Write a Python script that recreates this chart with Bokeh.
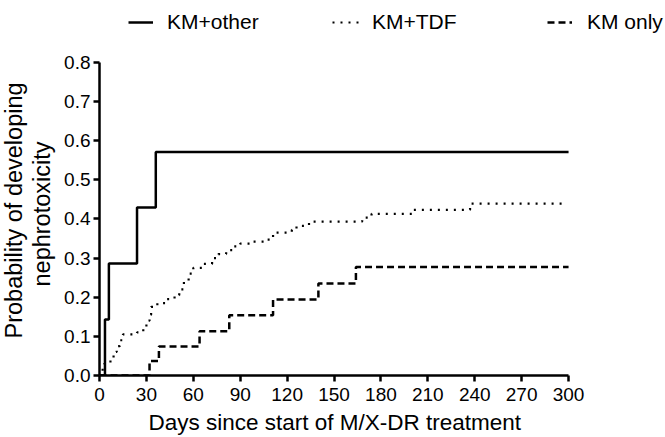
from bokeh.plotting import figure
from bokeh.models import Range1d, FixedTicker, PrintfTickFormatter, Legend, LegendItem, Title
from bokeh.embed import file_html
from bokeh.resources import INLINE

# ---- data ----
days_other = [0, 3.5, 6, 24, 36, 300]
prob_other = [0, 0.143, 0.286, 0.429, 0.571, 0.571]

days_tdf = [0, 1, 2, 3, 7, 9, 11, 13, 15, 24, 28, 30, 32, 33, 37, 42, 48, 51, 54, 57,
            60, 66, 72, 76, 81, 86, 90, 98, 106, 111, 123, 126, 134, 168, 174, 200, 237, 297]
prob_tdf = [0, 0.01, 0.02, 0.03, 0.045, 0.06, 0.075, 0.09, 0.105, 0.11, 0.125, 0.14, 0.155,
            0.175, 0.185, 0.195, 0.205, 0.22, 0.24, 0.26, 0.275, 0.285, 0.30, 0.31, 0.32,
            0.33, 0.337, 0.342, 0.347, 0.365, 0.372, 0.382, 0.393, 0.403, 0.413, 0.423,
            0.439, 0.439]

days_km = [0, 32, 38, 64, 83, 111, 140, 164, 300]
prob_km = [0, 0.037, 0.074, 0.113, 0.154, 0.194, 0.235, 0.277, 0.277]

x_ticks = [0, 30, 60, 90, 120, 150, 180, 210, 240, 270, 300]
y_ticks = [0.0, 0.1, 0.2, 0.3, 0.4, 0.5, 0.6, 0.7, 0.8]

labels = ["KM+other", "KM+TDF", "KM only"]
x_title = "Days since start of M/X-DR treatment"
y_title_lines = ["Probability of developing", "nephrotoxicity"]

FONT = "Liberation Sans"

# frame extends past the axes (to the right and above) so the legend row is not clipped;
# the visible axes are limited with `bounds`
p = figure(frame_width=566, frame_height=372,
           min_border_left=99, min_border_right=0, min_border_top=3, min_border_bottom=0,
           x_range=Range1d(0, 362), y_range=Range1d(0, 0.95),
           output_backend="svg", toolbar_location=None)

p.grid.visible = False
p.outline_line_color = None

r1 = p.step(days_other, prob_other, mode="after", line_color="black", line_width=2.5)
r2 = p.step(days_tdf, prob_tdf, mode="after", line_color="black", line_width=2.2,
            line_dash="2 6")
r3 = p.step(days_km, prob_km, mode="after", line_color="black", line_width=2.5,
            line_dash="7 4")

for ax in (p.xaxis[0], p.yaxis[0]):
    ax.axis_line_width = 2.5
    ax.axis_line_color = "black"
    ax.major_tick_line_width = 2.5
    ax.major_tick_line_color = "black"
    ax.major_tick_out = 6
    ax.major_tick_in = 0
    ax.minor_tick_line_color = None
    ax.major_label_text_font = FONT
    ax.major_label_text_font_size = "19px"
    ax.major_label_text_color = "black"

p.xaxis.bounds = (0, 300)
p.yaxis.bounds = (0, 0.8)
p.xaxis.ticker = FixedTicker(ticks=x_ticks)
p.yaxis.ticker = FixedTicker(ticks=y_ticks)
p.yaxis.formatter = PrintfTickFormatter(format="%.1f")
p.xaxis.major_label_standoff = 6
p.yaxis.major_label_standoff = 3

# axis titles as Title annotations so they can be placed along the bounded axes
xt = Title(text=x_title, align="left", offset=49, standoff=9,
           text_font=FONT, text_font_size="22.5px", text_font_style="normal",
           text_color="black")
p.add_layout(xt, "below")
yt2 = Title(text=y_title_lines[1], align="left", offset=89, standoff=14,
            text_font=FONT, text_font_size="23.5px", text_font_style="normal",
            text_color="black")
p.add_layout(yt2, "left")
yt1 = Title(text=y_title_lines[0], align="left", offset=37, standoff=-14,
            text_font=FONT, text_font_size="23.5px", text_font_style="normal",
            text_color="black")
p.add_layout(yt1, "left")

specs = [(r1, labels[0], 29, 25, 14),
         (r2, labels[1], 233, 30, 10),
         (r3, labels[2], 448, 25, 15)]
for r, lab, vx, gw, st in specs:
    leg = Legend(items=[LegendItem(label=lab, renderers=[r])], location=(vx, 341),
                 orientation="horizontal", padding=0, margin=0, spacing=0,
                 glyph_width=gw, glyph_height=20, label_height=20, label_standoff=st,
                 border_line_color=None, background_fill_alpha=0,
                 label_text_font=FONT, label_text_font_size="21px", label_text_color="black")
    p.add_layout(leg)

open("out.html", "w").write(file_html(p, INLINE))
